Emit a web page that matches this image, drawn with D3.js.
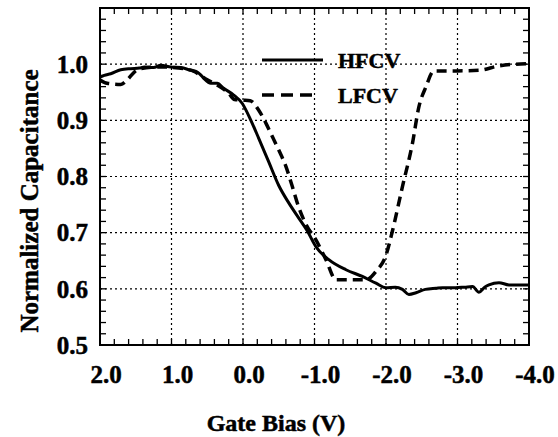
<!DOCTYPE html>
<html lang="en">
<head>
<meta charset="UTF-8">
<title>Normalized Capacitance vs Gate Bias</title>
<script src="https://d3js.org/d3.v7.min.js"></script>
<style>
  body { margin: 0; background: #fff; }
  svg text { font-family: "Liberation Serif", "Times New Roman", serif; font-weight: bold; fill: #000;
             stroke: #000; stroke-width: 0.5px; }
</style>
</head>
<body>
<div id="chart"></div>
<script>
// data: [gate bias V, normalized C]
const hfcv = [
  [2.0,0.977],[1.94,0.98],[1.85,0.983],[1.71,0.99],[1.57,0.992],[1.45,0.993],[1.38,0.995],
  [1.25,0.994],[1.15,0.998],[1.01,0.995],[0.87,0.994],[0.73,0.989],[0.64,0.986],[0.6,0.982],
  [0.55,0.975],[0.45,0.966],[0.36,0.966],[0.27,0.957],[0.13,0.945],[0.01,0.93],[-0.11,0.90],
  [-0.22,0.868],[-0.36,0.826],[-0.50,0.784],[-0.64,0.753],[-0.78,0.726],[-0.90,0.703],
  [-1.02,0.675],[-1.20,0.652],[-1.44,0.634],[-1.67,0.622],[-1.86,0.61],[-2.0,0.602],
  [-2.13,0.603],[-2.23,0.599],[-2.32,0.590],[-2.42,0.593],[-2.55,0.599],[-2.7,0.601],
  [-2.79,0.602],[-2.97,0.602],[-3.1,0.603],[-3.21,0.604],[-3.30,0.594],[-3.38,0.603],
  [-3.44,0.607],[-3.58,0.611],[-3.72,0.607],[-4.0,0.607]
];
const lfcv = [
  [2.0,0.972],[1.9,0.966],[1.71,0.964],[1.62,0.972],[1.52,0.986],[1.43,0.992],[1.15,0.995],
  [0.9,0.993],[0.7,0.988],[0.5,0.972],[0.35,0.962],[0.2,0.948],[0.12,0.937],[0.0,0.936],
  [-0.1,0.935],[-0.22,0.918],[-0.32,0.895],[-0.41,0.871],[-0.5,0.847],[-0.6,0.818],
  [-0.69,0.782],[-0.78,0.745],[-0.88,0.715],[-1.02,0.687],[-1.16,0.652],[-1.30,0.616],
  [-1.72,0.616],[-1.86,0.631],[-2.0,0.66],[-2.09,0.703],[-2.23,0.782],[-2.37,0.859],
  [-2.46,0.924],[-2.56,0.960],[-2.67,0.988],[-3.0,0.988],[-3.30,0.989],[-3.58,0.997],[-4.0,1.001]
];
const xTicks = [2, 1, 0, -1, -2, -3, -4];
const yTicks = [0.5, 0.6, 0.7, 0.8, 0.9, 1.0];
const legendNames = ["HFCV", "LFCV"];

const width = 558, height = 437;
const margin = { top: 8, right: 29, bottom: 92, left: 100 };

const x = d3.scaleLinear().domain([2, -4]).range([margin.left, width - margin.right]);
const y = d3.scaleLinear().domain([0.5, 1.1]).range([height - margin.bottom, margin.top]);

const svg = d3.select("#chart").append("svg")
  .attr("width", width).attr("height", height);

const x0 = margin.left, x1 = width - margin.right;
const y0 = height - margin.bottom, y1 = margin.top;

// dotted grid at the major ticks
svg.append("g").selectAll("line").data(xTicks.slice(1, -1)).join("line")
  .attr("x1", d => x(d)).attr("x2", d => x(d)).attr("y1", y0).attr("y2", y1)
  .attr("stroke", "#000").attr("stroke-width", 1.2).attr("stroke-dasharray", "2,3");
svg.append("g").selectAll("line").data(yTicks.slice(1)).join("line")
  .attr("x1", x0).attr("x2", x1).attr("y1", d => y(d)).attr("y2", d => y(d))
  .attr("stroke", "#000").attr("stroke-width", 1.2).attr("stroke-dasharray", "2,3");

// inward ticks on all four sides
const xMinor = d3.range(0, 31).map(i => 2 - i * 0.2);
const yMinor = d3.range(0, 31).map(i => 0.5 + i * 0.02);
const tk = svg.append("g").attr("stroke", "#000").attr("stroke-width", 1.3);
xMinor.forEach(v => {
  tk.append("line").attr("x1", x(v)).attr("x2", x(v)).attr("y1", y0).attr("y2", y0 - 6);
  tk.append("line").attr("x1", x(v)).attr("x2", x(v)).attr("y1", y1).attr("y2", y1 + 6);
});
yMinor.forEach(v => {
  tk.append("line").attr("x1", x0).attr("x2", x0 + 6).attr("y1", y(v)).attr("y2", y(v));
  tk.append("line").attr("x1", x1).attr("x2", x1 - 6).attr("y1", y(v)).attr("y2", y(v));
});

// frame
svg.append("rect").attr("x", x0).attr("y", y1).attr("width", x1 - x0).attr("height", y0 - y1)
  .attr("fill", "none").attr("stroke", "#000").attr("stroke-width", 2);

// tick labels (plain hyphen for negatives, as in the original)
svg.append("g").selectAll("text").data(xTicks).join("text")
  .attr("x", d => x(d) + 6).attr("y", 383)
  .attr("text-anchor", "middle").attr("font-size", 25)
  .text(d => d.toFixed(1));
svg.append("g").selectAll("text").data(yTicks).join("text")
  .attr("x", 88).attr("y", d => y(d)).attr("dy", "0.35em")
  .attr("text-anchor", "end").attr("font-size", 25)
  .text(d => d.toFixed(1));

// axis titles
svg.append("text").attr("x", 276).attr("y", 431).attr("text-anchor", "middle")
  .attr("font-size", 24).text("Gate Bias (V)");
svg.append("text").attr("transform", "translate(38,201) rotate(-90)")
  .attr("text-anchor", "middle").attr("font-size", 25).text("Normalized Capacitance");

// curves
const line = d3.line().x(d => x(d[0])).y(d => y(d[1])).curve(d3.curveMonotoneX);
svg.append("path").datum(hfcv).attr("d", line)
  .attr("fill", "none").attr("stroke", "#000").attr("stroke-width", 3)
  .attr("stroke-linejoin", "round");
svg.append("path").datum(lfcv).attr("d", line)
  .attr("fill", "none").attr("stroke", "#000").attr("stroke-width", 3.5)
  .attr("stroke-dasharray", "10,6");

// legend
const lg = svg.append("g");
lg.append("line").attr("x1", 262).attr("x2", 323).attr("y1", 60).attr("y2", 60)
  .attr("stroke", "#000").attr("stroke-width", 3);
lg.append("line").attr("x1", 262).attr("x2", 316).attr("y1", 95).attr("y2", 95)
  .attr("stroke", "#000").attr("stroke-width", 3.5).attr("stroke-dasharray", "12,7");
lg.selectAll("text.lab").data(legendNames).join("text")
  .attr("x", 338).attr("y", (d, i) => 68 + i * 35)
  .attr("font-size", 22).text(d => d);
</script>
</body>
</html>
